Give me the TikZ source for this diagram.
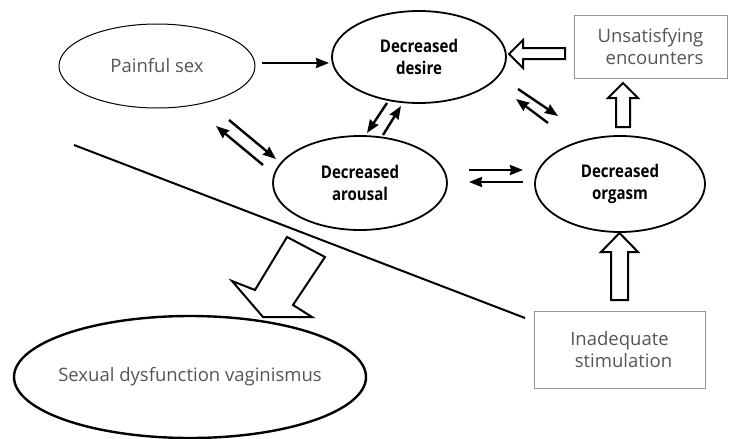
\documentclass[tikz,border=0pt]{standalone}
\usepackage{fontspec}
\setmainfont{Open Sans}
\newfontfamily\ellfont[FakeStretch=0.86]{Open Sans}
\usetikzlibrary{shapes.geometric,arrows.meta}
\definecolor{txtgray}{RGB}{85,85,85}
\definecolor{boxgray}{RGB}{150,150,150}
\tikzset{
  ell/.style={ellipse,draw,line width=1.8pt,inner sep=0pt,align=center,font=\ellfont\fontsize{17.5}{22}\selectfont\bfseries},
  lightell/.style={ellipse,draw,line width=1pt,inner sep=0pt,align=center,text=txtgray,font=\fontsize{18.5}{22}\selectfont},
  gbox/.style={rectangle,draw=boxgray,line width=1pt,inner sep=0pt,align=center,text=txtgray,font=\fontsize{18.5}{22}\selectfont},
  thinarr/.style={line width=2.4pt,-{Stealth[length=13pt,width=10pt,inset=1pt]}},
  hollow/.style={draw,fill=white,line width=2pt,line join=miter}
}
\begin{document}
\begin{tikzpicture}[x=1pt,y=-1pt]
\useasboundingbox (0,0) rectangle (729,439);
% nodes
\node[lightell,minimum width=196pt,minimum height=84pt] (pain) at (157,66) {Painful sex};
\node[ell,minimum width=174pt,minimum height=92pt] (desire) at (419,57) {Decreased\\desire};
\node[ell,minimum width=174pt,minimum height=94pt] (arousal) at (360,183) {Decreased\\arousal};
\node[ell,minimum width=170pt,minimum height=96pt] (orgasm) at (620,184) {Decreased\\orgasm};
\node[gbox,minimum width=153pt,minimum height=63pt] (unsat) at (650.5,46.5) {Unsatisfying\\\hspace*{8pt}encounters};
\node[gbox,minimum width=171pt,minimum height=77pt] (inad) at (619.5,349.5) {Inadequate\\\hspace*{8pt}stimulation};
\node[lightell,line width=2.4pt,minimum width=352pt,minimum height=122pt] (vag) at (190,377) {\makebox[0pt]{Sexual dysfunction vaginismus}};
% dividing line
\coordinate (l1) at (74,145);
\coordinate (l2) at (525,318);
\draw[line width=2pt] (l1) -- (l2);
% thin arrows
\coordinate (pd1) at (262,63); \coordinate (pd2) at (329,63);
\draw[thinarr] (pd1) -- (pd2);
\coordinate (pa1) at (229,120); \coordinate (pa2) at (276,159);
\coordinate (ap1) at (263,165); \coordinate (ap2) at (216,126);
\draw[thinarr] (pa1) -- (pa2);
\draw[thinarr] (ap1) -- (ap2);
\coordinate (da1) at (387,103); \coordinate (da2) at (367,133);
\coordinate (ad1) at (383,135); \coordinate (ad2) at (401,106);
\draw[thinarr] (da1) -- (da2);
\draw[thinarr] (ad1) -- (ad2);
\coordinate (ao1) at (469,170); \coordinate (ao2) at (523,170);
\coordinate (oa1) at (523,182); \coordinate (oa2) at (469,182);
\draw[thinarr] (ao1) -- (ao2);
\draw[thinarr] (oa1) -- (oa2);
\coordinate (do1) at (518,89); \coordinate (do2) at (558,116);
\coordinate (od1) at (548,123); \coordinate (od2) at (516,99);
\draw[thinarr] (do1) -- (do2);
\draw[thinarr] (od1) -- (od2);
% hollow arrows
\draw[hollow] (565,48) -- (523,48) -- (523,40) -- (509,54) -- (523,68) -- (523,59) -- (565,59) -- cycle;
\draw[hollow] (616,127) -- (616,98) -- (608,98) -- (623,83) -- (638,98) -- (630,98) -- (630,127) -- cycle;
\draw[hollow] (611,300) -- (611,252) -- (601,252) -- (619.5,233) -- (638,252) -- (628,252) -- (628,300) -- cycle;
\draw[hollow] (287,237) -- (325,257) -- (293,305) -- (312,317) -- (263,317) -- (232,281) -- (255,290) -- cycle;
\end{tikzpicture}
\end{document}
